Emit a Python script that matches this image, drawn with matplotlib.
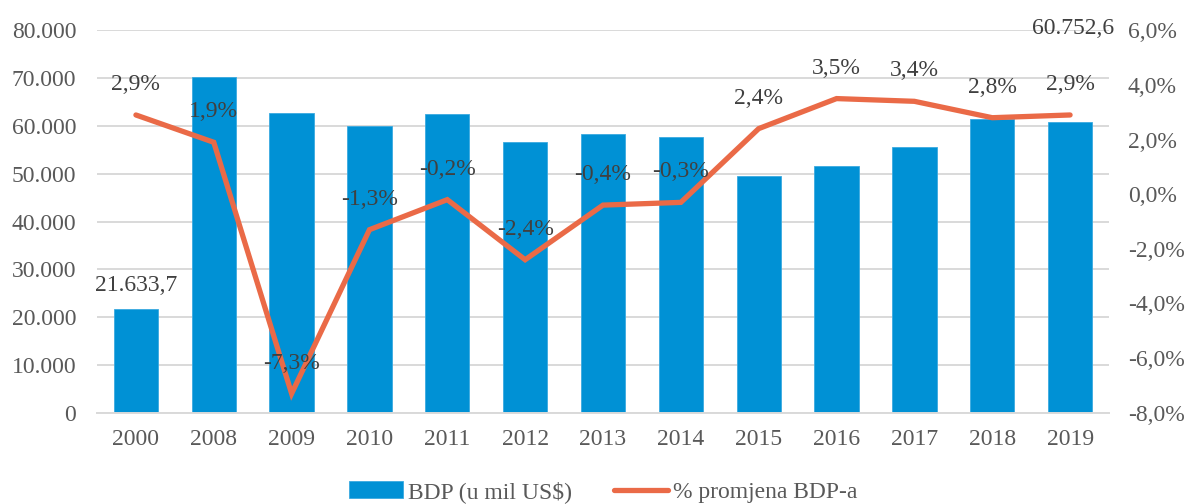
import matplotlib
matplotlib.use("Agg")
import matplotlib.pyplot as plt
import numpy as np

years = ["2000", "2008", "2009", "2010", "2011", "2012", "2013", "2014",
         "2015", "2016", "2017", "2018", "2019"]
gdp = [21633.7, 70300, 62600, 59900, 62550, 56550, 58250, 57600,
       49450, 51600, 55550, 61350, 60752.6]
growth = [2.9, 1.9, -7.3, -1.3, -0.2, -2.4, -0.4, -0.3, 2.4, 3.5, 3.4, 2.8, 2.9]
growth_labels = ["2,9%", "1,9%", "-7,3%", "-1,3%", "-0,2%", "-2,4%", "-0,4%",
                 "-0,3%", "2,4%", "3,5%", "3,4%", "2,8%", "2,9%"]
left_ticks = [0, 10000, 20000, 30000, 40000, 50000, 60000, 70000, 80000]
left_tick_labels = ["0", "10.000", "20.000", "30.000", "40.000", "50.000",
                    "60.000", "70.000", "80.000"]
right_ticks = [-8, -6, -4, -2, 0, 2, 4, 6]
right_tick_labels = ["-8,0%", "-6,0%", "-4,0%", "-2,0%", "0,0%", "2,0%", "4,0%", "6,0%"]
bar_label_first = "21.633,7"
bar_label_last = "60.752,6"
legend_labels = ["BDP (u mil US$)", "% promjena BDP-a"]

BLUE = "#0091D5"
ORANGE = "#EA6A47"
TICK_C = "#595959"
LABEL_C = "#404040"
GRID_C = "#D9D9D9"
FS = 17

plt.rcParams["font.family"] = ["Liberation Serif", "DejaVu Serif"]

fig = plt.figure(figsize=(11.86, 5.04), dpi=100)
ax = fig.add_axes([97/1186, 1-412.7/504, (1109-97)/1186, (412.7-30.3)/504])
x = np.arange(len(years))

bars = ax.bar(x, gdp, width=0.57, color=BLUE, edgecolor="#3AAAE0", linewidth=0.6,
              zorder=2, label=legend_labels[0])
ax.set_xlim(-0.5, len(years) - 0.5)
ax.set_ylim(0, 80000)
ax.set_yticks(left_ticks)
ax.set_yticklabels(left_tick_labels)
ax.set_xticks(x)
ax.set_xticklabels(years)
ax.yaxis.grid(True, color=GRID_C, linewidth=1.4)
ax.set_axisbelow(True)
for s in ["top", "right", "left"]:
    ax.spines[s].set_visible(False)
ax.spines["bottom"].set_color(GRID_C)
ax.spines["bottom"].set_linewidth(1.4)
ax.tick_params(axis="both", length=0, labelsize=FS, labelcolor=TICK_C)
ax.tick_params(axis="y", pad=15)
ax.tick_params(axis="x", pad=12)

ax2 = ax.twinx()
line, = ax2.plot(x, growth, color=ORANGE, linewidth=3.8, solid_capstyle="round",
                 solid_joinstyle="miter", zorder=3, label=legend_labels[1])
ax2.set_ylim(-8, 6)
ax2.set_yticks(right_ticks)
ax2.set_yticklabels(right_tick_labels)
for s in ["top", "right", "left", "bottom"]:
    ax2.spines[s].set_visible(False)
ax2.tick_params(axis="y", length=0, labelsize=FS, labelcolor=TICK_C, pad=13.5)

for xi, g, lab in zip(x, growth, growth_labels):
    ax2.annotate(lab, xy=(xi, g), xytext=(0, 22), textcoords="offset points",
                 ha="center", va="center", fontsize=FS, color=LABEL_C, zorder=4)

ax.annotate(bar_label_first, xy=(x[0], gdp[0]), xytext=(0, 17), textcoords="offset points",
            ha="center", va="center", fontsize=FS, color=LABEL_C)
ax.annotate(bar_label_last, xy=(x[-1], 80000), xytext=(2, 1), textcoords="offset points",
            ha="center", va="center", fontsize=FS, color=LABEL_C, annotation_clip=False)

fig.legend([bars, line], legend_labels, loc="center", bbox_to_anchor=(603/1186, 1-492/504),
           ncol=2, frameon=False, fontsize=FS, labelcolor=TICK_C,
           handlelength=2.3, handletextpad=0.2, columnspacing=1.8)

fig.savefig("out.png", dpi=100)
